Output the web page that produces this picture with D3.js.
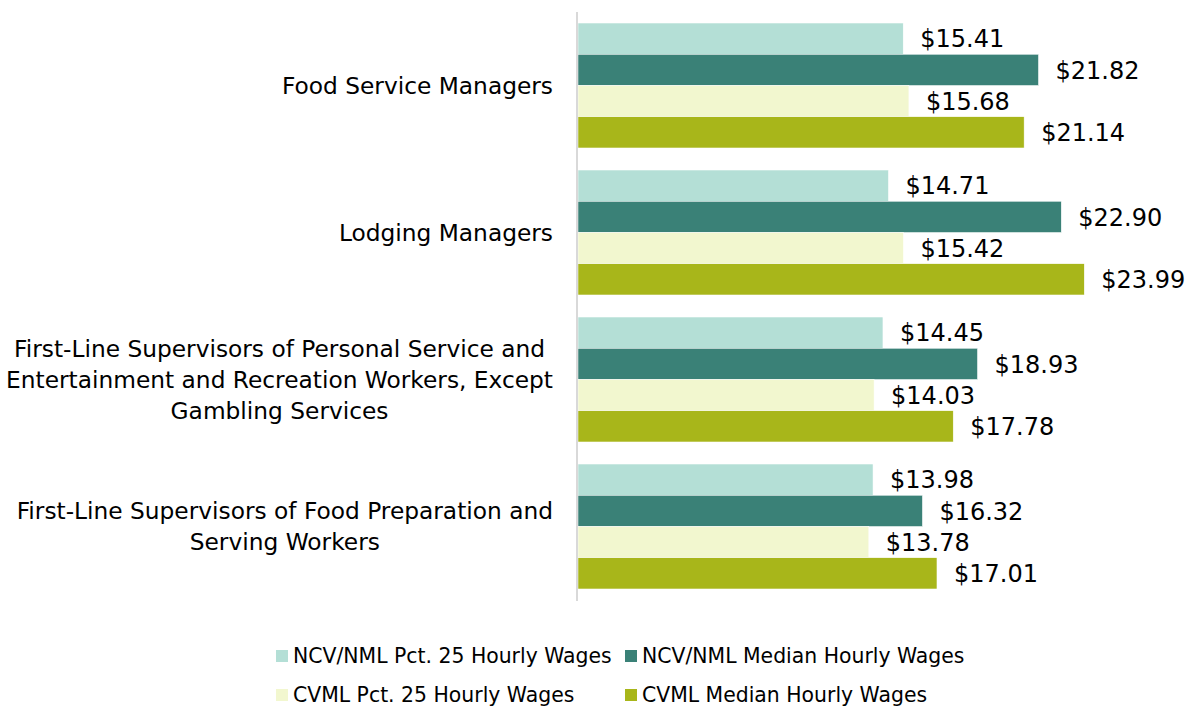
<!DOCTYPE html>
<html>
<head>
<meta charset="utf-8">
<script src="https://cdn.jsdelivr.net/npm/d3@7"></script>
<style>
  body { margin: 0; background: #fff; }
  svg { display: block; font-family: "DejaVu Sans", sans-serif; }
</style>
</head>
<body>
<svg id="chart" width="1189" height="706"></svg>
<script>
// occupations, top to bottom
const categories = [
  ['Food Service Managers'],
  ['Lodging Managers'],
  ['First-Line Supervisors of Personal Service and', 'Entertainment and Recreation Workers, Except', 'Gambling Services'],
  ['First-Line Supervisors of Food Preparation and', 'Serving Workers']
];
const seriesNames = [
  'NCV/NML Pct. 25 Hourly Wages',
  'NCV/NML Median Hourly Wages',
  'CVML Pct. 25 Hourly Wages',
  'CVML Median Hourly Wages'
];
const colors = ['#b4dfd6', '#3a8177', '#f2f7cf', '#a8b61a'];

const ncvPct25   = [15.41, 14.71, 14.45, 13.98];
const ncvMedian  = [21.82, 22.90, 18.93, 16.32];
const cvmlPct25  = [15.68, 15.42, 14.03, 13.78];
const cvmlMedian = [21.14, 23.99, 17.78, 17.01];
const seriesValues = [ncvPct25, ncvMedian, cvmlPct25, cvmlMedian];

const svg = d3.select('#chart');
const fmt = d => '$' + d3.format('.2f')(d);

const x = d3.scaleLinear().domain([0, 29]).range([578, 1190]);
const y = d3.scaleBand().domain(d3.range(categories.length)).range([12, 600])
  .paddingInner(0.15).paddingOuter(0.075);
const ys = d3.scaleBand().domain(d3.range(seriesNames.length)).range([0, y.bandwidth()]);

const rows = [];
categories.forEach((c, i) => seriesValues.forEach((vals, s) => rows.push({cat: i, s, v: vals[i]})));

const g = svg.append('g');
g.selectAll('rect.bar').data(rows).join('rect')
  .attr('class', 'bar')
  .attr('x', x(0))
  .attr('y', d => y(d.cat) + ys(d.s))
  .attr('width', d => x(d.v) - x(0))
  .attr('height', ys.bandwidth())
  .attr('fill', d => colors[d.s])
  .attr('stroke', '#fff').attr('stroke-width', 0.5);

g.selectAll('text.val').data(rows).join('text')
  .attr('class', 'val')
  .attr('x', d => x(d.v) + 17)
  .attr('y', d => y(d.cat) + ys(d.s) + ys.bandwidth() / 2)
  .attr('dy', '0.36em')
  .attr('font-size', 24)
  .attr('fill', '#000')
  .text(d => fmt(d.v));

// axis line
svg.append('line')
  .attr('x1', x(0) - 1).attr('x2', x(0) - 1)
  .attr('y1', 12).attr('y2', 601)
  .attr('stroke', '#d9d9d9').attr('stroke-width', 2);

// category labels: block right aligned, lines centered
const lineH = 31;
categories.forEach((lines, i) => {
  const lg = svg.append('g');
  const texts = lg.selectAll('text').data(lines).join('text')
    .attr('font-size', 23.3)
    .attr('text-anchor', 'middle')
    .attr('fill', '#000')
    .attr('y', (d, k) => y(i) + y.bandwidth() / 2 + (k - (lines.length - 1) / 2) * lineH)
    .attr('dy', '0.36em')
    .text(d => d);
  const maxW = d3.max(texts.nodes(), n => n.getComputedTextLength());
  texts.attr('x', 553 - maxW / 2);
});

// legend
const legendPos = [[276, 656], [625, 656], [276, 695], [625, 695]];
seriesNames.forEach((name, s) => {
  const [lx, ly] = legendPos[s];
  svg.append('rect').attr('x', lx).attr('y', ly - 6).attr('width', 12).attr('height', 12).attr('fill', colors[s]);
  svg.append('text').attr('x', lx + 17).attr('y', ly).attr('dy', '0.36em')
    .attr('font-size', 20.4).attr('fill', '#000').text(name);
});
</script>
</body>
</html>
